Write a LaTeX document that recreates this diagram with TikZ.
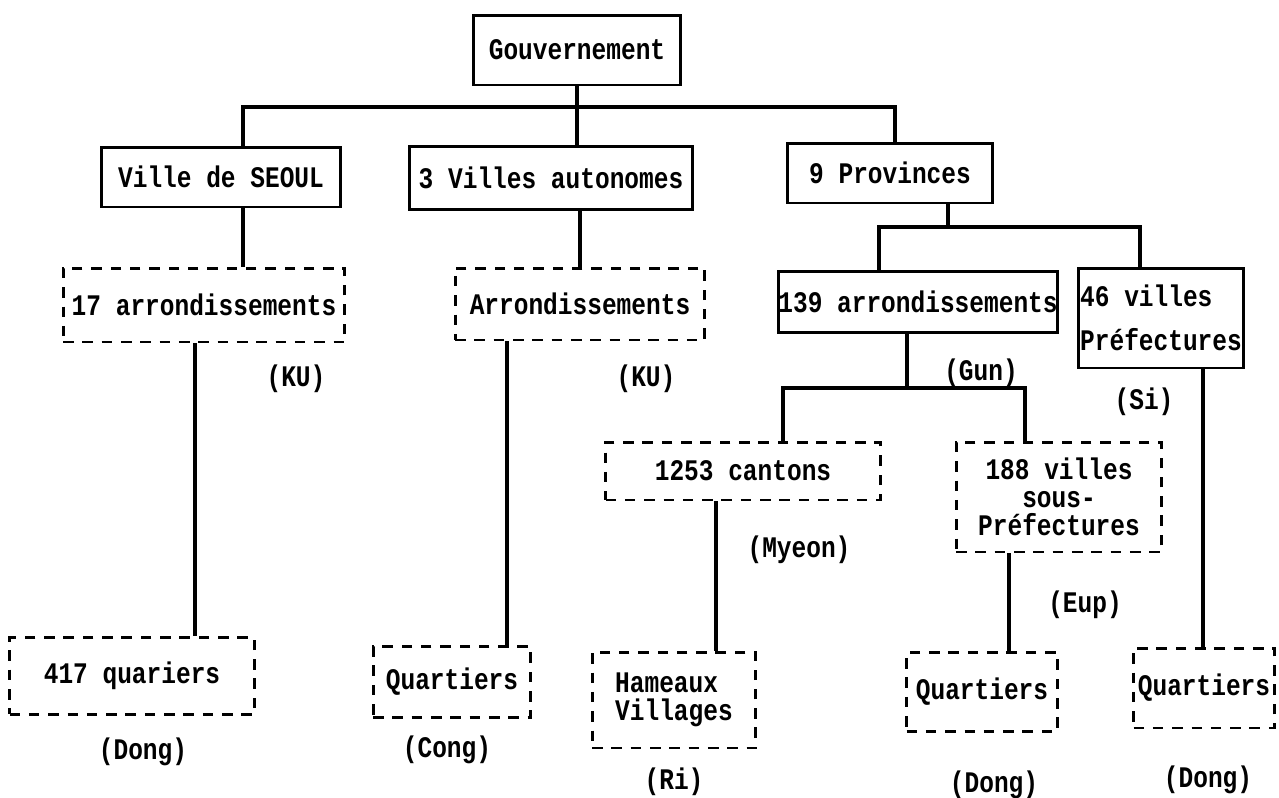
\documentclass[tikz,border=0pt]{standalone}
\usepackage{fontspec}
\newfontfamily\typew{Liberation Mono}[FakeStretch=0.82]
\tikzset{
  box/.style={draw, line width=1.7pt, inner sep=0pt, font=\typew\bfseries\fontsize{17}{16}\selectfont},
  dbox/.style={box, dash pattern=on 6pt off 5pt},
  lbl/.style={font=\typew\bfseries\fontsize{17}{16}\selectfont},
  link/.style={line width=1.8pt}
}
\begin{document}
\begin{tikzpicture}[x=0.02cm,y=-0.02cm]
\useasboundingbox (0,0) rectangle (1279,798);
\node [box, minimum width=4.16cm, minimum height=1.4cm] (gouv) at (577,50) {Gouvernement};
\node [box, minimum width=4.78cm, minimum height=1.2cm] (seoul) at (221,177) {Ville de SEOUL};
\node [box, minimum width=5.66cm, minimum height=1.26cm] (villes) at (551,178) {3 Villes autonomes};
\node [box, minimum width=4.12cm, minimum height=1.2cm] (prov) at (890,173) {9 Provinces};
\node [dbox, minimum width=5.64cm, minimum height=1.48cm] (arrSeoul) at (204,305) {17 arrondissements};
\node [dbox, minimum width=5cm, minimum height=1.44cm] (arrVilles) at (580,304) {Arrondissements};
\node [box, minimum width=5.58cm, minimum height=1.22cm] (arrProv) at (918,302) {139 arrondissements};
\node [box, minimum width=3.3cm, minimum height=2cm, align=left] (villesPref) at (1161,318) {46 villes\\[9pt]Préfectures};
\node [dbox, minimum width=5.5cm, minimum height=1.16cm] (cantons) at (743,471) {1253 cantons};
\node [dbox, minimum width=4.12cm, minimum height=2.2cm, align=center] (villesSP) at (1059,497) {188 villes\\sous-\\Préfectures};
\node [dbox, minimum width=4.9cm, minimum height=1.54cm] (quarSeoul) at (132,676) {417 quariers};
\node [dbox, minimum width=3.16cm, minimum height=1.42cm] (quarVilles) at (452,682) {Quartiers};
\node [dbox, minimum width=3.28cm, minimum height=1.92cm, align=left] (hameaux) at (674,700) {Hameaux\\Villages};
\node [dbox, minimum width=3.02cm, minimum height=1.58cm] (quarSP) at (982,692) {Quartiers};
\node [dbox, minimum width=2.82cm, minimum height=1.6cm] (quarPref) at (1204,688) {Quartiers};
\node [lbl] (kuSeoul) at (296,379) {(KU)};
\node [lbl] (kuVilles) at (646,379) {(KU)};
\node [lbl] (gun) at (981,373) {(Gun)};
\node [lbl] (si) at (1144,402) {(Si)};
\node [lbl] (myeon) at (799,550) {(Myeon)};
\node [lbl] (eup) at (1085,605) {(Eup)};
\node [lbl] (dongSeoul) at (143,752) {(Dong)};
\node [lbl] (dongVilles) at (447,750) {(Cong)};
\node [lbl] (ri) at (674,782) {(Ri)};
\node [lbl] (dongSP) at (994,785) {(Dong)};
\node [lbl] (dongPref) at (1208,780) {(Dong)};
\coordinate (t1) at (243,107); \coordinate (t2) at (895,107);
\coordinate (dProv) at (948,227); \coordinate (t3) at (879,227); \coordinate (t4) at (1140,227);
\coordinate (dArr) at (907,388); \coordinate (t5) at (783,388); \coordinate (t6) at (1025,388);
\coordinate (dSeoul) at (195,0); \coordinate (dVilles) at (507,0); \coordinate (dCant) at (716,0);
\coordinate (dSP) at (1009,0); \coordinate (dPref) at (1203,0);
\draw [link] (gouv.south) -- (gouv.south |- t1);
\draw [link] (seoul.north -| t1) -- (t1) -- (t2) -- (prov.north -| t2);
\draw [link] (gouv.south |- t1) -- (villes.north -| gouv.south);
\draw [link] (seoul.south -| t1) -- (arrSeoul.north -| t1);
\draw [link] (arrSeoul.south -| dSeoul) -- (quarSeoul.north -| dSeoul);
\draw [link] (villes.south -| arrVilles.north) -- (arrVilles.north);
\draw [link] (arrVilles.south -| dVilles) -- (quarVilles.north -| dVilles);
\draw [link] (prov.south -| dProv) -- (dProv);
\draw [link] (arrProv.north -| t3) -- (t3) -- (t4) -- (villesPref.north -| t4);
\draw [link] (arrProv.south -| dArr) -- (dArr);
\draw [link] (cantons.north -| t5) -- (t5) -- (t6) -- (villesSP.north -| t6);
\draw [link] (cantons.south -| dCant) -- (hameaux.north -| dCant);
\draw [link] (villesSP.south -| dSP) -- (quarSP.north -| dSP);
\draw [link] (villesPref.south -| dPref) -- (quarPref.north -| dPref);
\end{tikzpicture}
\end{document}
